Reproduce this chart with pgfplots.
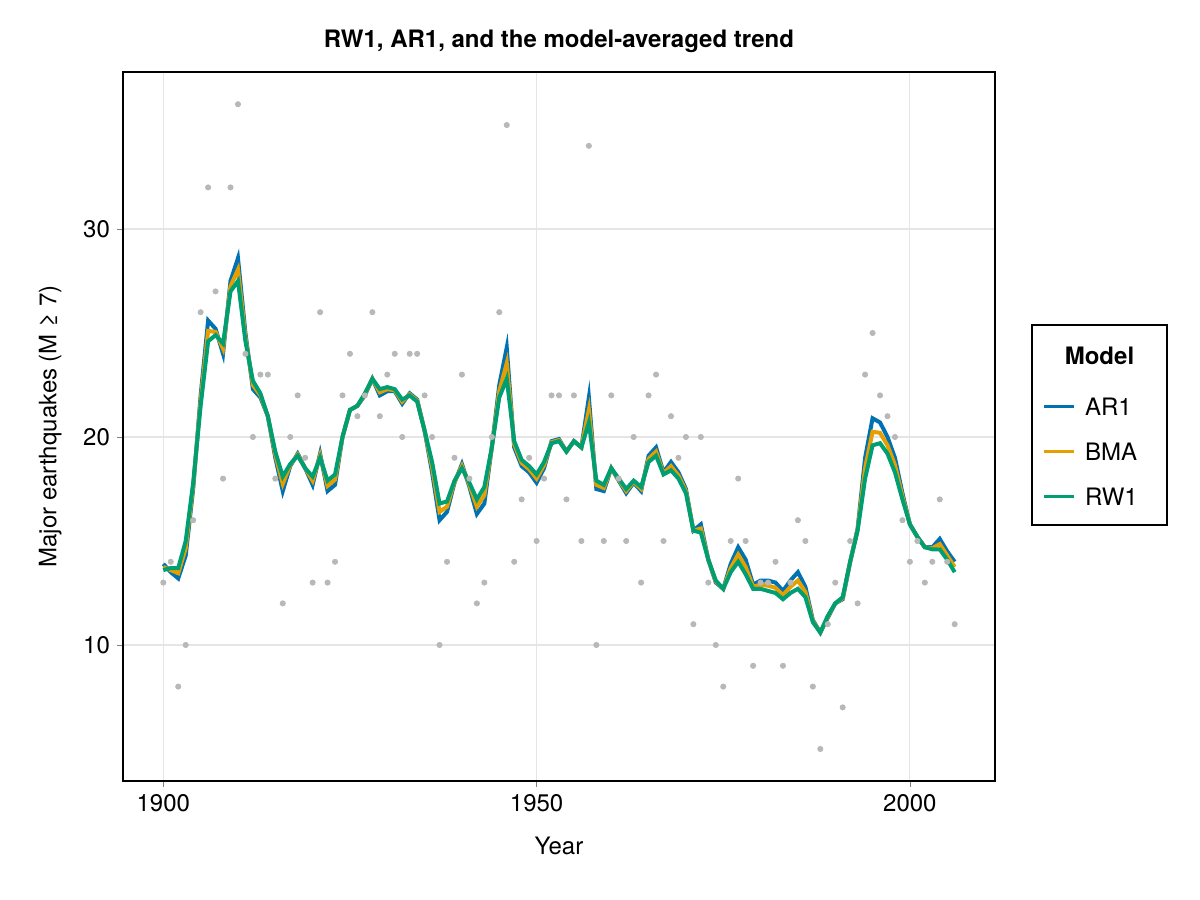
\documentclass[border=0pt]{standalone}
\usepackage{pgfplots}
\pgfplotsset{compat=1.18}
\usepackage{pgfplotstable}
\usepackage{fontspec}
\setmainfont{TeX Gyre Heros}
\definecolor{cAR}{HTML}{0072B2}
\definecolor{cBMA}{HTML}{E69F00}
\definecolor{cRW}{HTML}{009E73}
\pgfplotstableread{
y c
1900 13
1901 14
1902 8
1903 10
1904 16
1905 26
1906 32
1907 27
1908 18
1909 32
1910 36
1911 24
1912 20
1913 23
1914 23
1915 18
1916 12
1917 20
1918 22
1919 19
1920 13
1921 26
1922 13
1923 14
1924 22
1925 24
1926 21
1927 22
1928 26
1929 21
1930 23
1931 24
1932 20
1933 24
1934 24
1935 22
1936 20
1937 10
1938 14
1939 19
1940 23
1941 18
1942 12
1943 13
1944 20
1945 26
1946 35
1947 14
1948 17
1949 19
1950 15
1951 18
1952 22
1953 22
1954 17
1955 22
1956 15
1957 34
1958 10
1959 15
1960 22
1961 18
1962 15
1963 20
1964 13
1965 22
1966 23
1967 15
1968 21
1969 19
1970 20
1971 11
1972 20
1973 13
1974 10
1975 8
1976 15
1977 18
1978 15
1979 9
1980 13
1981 13
1982 14
1983 9
1984 13
1985 16
1986 15
1987 8
1988 5
1989 11
1990 13
1991 7
1992 15
1993 12
1994 23
1995 25
1996 22
1997 21
1998 20
1999 16
2000 14
2001 15
2002 13
2003 14
2004 17
2005 14
2006 11
}\pts
\pgfplotstableread{
y ar rw
1900 13.9 13.6
1901 13.5 13.7
1902 13.2 13.7
1903 14.3 15.0
1904 17.5 17.8
1905 22.0 21.5
1906 25.6 24.6
1907 25.2 24.9
1908 24.0 24.5
1909 27.5 27.0
1910 28.6 27.5
1911 25.0 24.6
1912 22.3 22.7
1913 21.9 22.1
1914 21.0 21.0
1915 19.0 19.3
1916 17.4 18.1
1917 18.6 18.7
1918 19.2 19.1
1919 18.5 18.5
1920 17.7 18.1
1921 19.2 19.0
1922 17.4 17.9
1923 17.7 18.2
1924 20.0 20.0
1925 21.3 21.3
1926 21.5 21.5
1927 22.0 22.1
1928 22.8 22.8
1929 22.0 22.3
1930 22.2 22.4
1931 22.2 22.3
1932 21.6 21.8
1933 22.1 22.0
1934 21.8 21.7
1935 20.3 20.3
1936 18.3 18.8
1937 16.0 16.8
1938 16.4 16.9
1939 17.8 17.9
1940 18.7 18.5
1941 17.6 17.8
1942 16.3 17.0
1943 16.8 17.6
1944 19.5 19.5
1945 22.5 21.9
1946 24.3 22.8
1947 19.5 19.8
1948 18.6 18.9
1949 18.3 18.6
1950 17.8 18.2
1951 18.5 18.8
1952 19.8 19.7
1953 19.9 19.8
1954 19.3 19.3
1955 19.8 19.8
1956 19.5 19.5
1957 21.9 20.7
1958 17.5 17.9
1959 17.4 17.7
1960 18.5 18.5
1961 17.9 18.0
1962 17.3 17.5
1963 17.8 17.9
1964 17.4 17.6
1965 19.1 18.8
1966 19.5 19.1
1967 18.3 18.2
1968 18.8 18.4
1969 18.3 18.0
1970 17.5 17.3
1971 15.5 15.5
1972 15.8 15.4
1973 14.1 14.1
1974 13.0 13.1
1975 12.7 12.7
1976 13.9 13.5
1977 14.7 14.0
1978 14.1 13.4
1979 12.9 12.7
1980 13.1 12.7
1981 13.1 12.6
1982 13.0 12.5
1983 12.6 12.2
1984 13.1 12.5
1985 13.5 12.7
1986 12.8 12.3
1987 11.2 11.1
1988 10.6 10.6
1989 11.3 11.4
1990 12.0 12.0
1991 12.2 12.3
1992 14.0 14.0
1993 15.6 15.5
1994 19.0 18.0
1995 20.9 19.6
1996 20.7 19.7
1997 20.0 19.2
1998 19.0 18.3
1999 17.3 17.0
2000 15.8 15.8
2001 15.2 15.2
2002 14.7 14.7
2003 14.7 14.6
2004 15.1 14.6
2005 14.5 14.1
2006 14.0 13.5
}\trend
\pgfplotstablecreatecol[expr={0.5*(\thisrow{ar}+\thisrow{rw})}]{bma}\trend
\begin{document}
\begin{tikzpicture}[x=1pt,y=1pt]
\useasboundingbox (0,0) rectangle (600,450);
\begin{axis}[at={(61.5pt,59.5pt)},anchor=south west,
 scale only axis, width=436pt, height=354.5pt,
 xmin=1894.6, xmax=2011.4, ymin=3.46, ymax=37.55,
 xtick={1900,1950,2000}, ytick={10,20,30},
 xticklabel style={/pgf/number format/1000 sep={}},
 /pgf/number format/assume math mode=true,
 tick label style={font=\fontsize{12}{14}\selectfont},
 label style={font=\fontsize{12}{14}\selectfont},
 xlabel style={yshift=-6pt}, ylabel style={yshift=4pt},
 grid=major, grid style={black!10,line width=0.6pt},
 tick align=outside, tick pos=left, major tick length=3pt,
 axis line style={line width=0.6pt},
 xlabel={Year}, ylabel={Major earthquakes (M ≥ 7)},
 title={\bfseries RW1, AR1, and the model-averaged trend},
 title style={font=\fontsize{12}{14}\selectfont, yshift=0pt},
]
\addplot[only marks, mark=*, mark size=1.3pt, mark options={draw=black!28, fill=black!28}] table[x=y,y=c]{\pts};
\addplot[cAR, line width=2pt] table[x=y,y=ar]{\trend};
\addplot[cBMA, line width=2pt] table[x=y,y=bma]{\trend};
\addplot[cRW, line width=2pt] table[x=y,y=rw]{\trend};
\end{axis}
\draw[line width=0.6pt] (516,187.5) rectangle (583.5,287.5);
\node[font=\fontsize{12}{14}\selectfont\bfseries] at (549.75,272) {Model};
\draw[cAR,line width=1.5pt] (522,246.5) -- (537,246.5);
\node[anchor=west,font=\fontsize{12}{14}\selectfont] at (539,246.5) {AR1};
\draw[cBMA,line width=1.5pt] (522,224) -- (537,224);
\node[anchor=west,font=\fontsize{12}{14}\selectfont] at (539,224) {BMA};
\draw[cRW,line width=1.5pt] (522,201.5) -- (537,201.5);
\node[anchor=west,font=\fontsize{12}{14}\selectfont] at (539,201.5) {RW1};
\end{tikzpicture}
\end{document}
